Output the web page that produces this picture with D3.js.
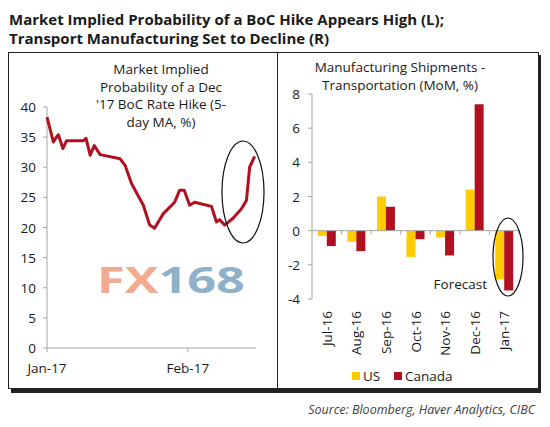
<!DOCTYPE html>
<html>
<head>
<meta charset="utf-8">
<script src="https://cdn.jsdelivr.net/npm/d3@7"></script>
<style>
  body { margin: 0; background: #fff; }
  text { font-family: 'Open Sans', 'DejaVu Sans', sans-serif; }
</style>
</head>
<body>
<div id="chart"></div>
<script>
// left panel: BoC hike probability, x = trading-day offset from Jan-17
const probDays = [0, 1.4, 2.1, 2.5, 2.9, 3.5, 4.3, 8.0, 8.6, 9.5, 10.4, 11.7, 16.1, 17.2, 18.6, 21.2, 22.6, 23.7, 25.6, 28.1, 29.2, 30.2, 31.4, 32.5, 36.2, 37.3, 38.0, 39.1, 40.9, 42.8, 43.9, 44.6, 45.7]
const probValues = [38.3, 34.2, 35, 35.4, 34.5, 33.1, 34.4, 34.4, 34.8, 32, 33.6, 32.1, 31.4, 30.3, 27.3, 23.7, 20.4, 19.9, 22.3, 24.2, 26.2, 26.2, 23.7, 24.2, 23.5, 20.9, 21.3, 20.4, 21.5, 23.1, 24.5, 30, 31.8]
const probTicks = [0, 5, 10, 15, 20, 25, 30, 35, 40]
const monthTicks = [{ day: 0, label: 'Jan-17' }, { day: 31, label: 'Feb-17' }]

// right panel: manufacturing shipments
const months = ['Jul-16', 'Aug-16', 'Sep-16', 'Oct-16', 'Nov-16', 'Dec-16', 'Jan-17']
const usValues = [-0.3, -0.65, 2.0, -1.55, -0.4, 2.4, -2.85]
const canadaValues = [-0.9, -1.2, 1.4, -0.5, -1.45, 7.4, -3.5]
const shipTicks = [-4, -2, 0, 2, 4, 6, 8]

const RED = '#b01020'
const GOLD = '#ffcc00'
const AXIS = '#a6a6a6'
const FS = 13.5

const svg = d3.select('#chart').append('svg').attr('width', 550).attr('height', 427)

svg.append('text').attr('x', 9).attr('y', 25).attr('font-size', 15).attr('font-weight', 'bold')
  .attr('fill', '#1a1a1a').text('Market Implied Probability of a BoC Hike Appears High (L);')
svg.append('text').attr('x', 9).attr('y', 44).attr('font-size', 15).attr('font-weight', 'bold')
  .attr('fill', '#1a1a1a').text('Transport Manufacturing Set to Decline (R)')

// frame with shadow
svg.append('rect').attr('x', 11).attr('y', 55).attr('width', 530).attr('height', 338).attr('fill', '#222')
svg.append('rect').attr('x', 8.5).attr('y', 52.5).attr('width', 530).attr('height', 336)
  .attr('fill', '#fff').attr('stroke', '#222').attr('stroke-width', 1)
svg.append('line').attr('x1', 277.5).attr('x2', 277.5).attr('y1', 52).attr('y2', 389)
  .attr('stroke', '#222').attr('stroke-width', 1)

// ---- left
const xL = d3.scaleLinear().domain([0, 46]).range([47, 256])
const yL = d3.scaleLinear().domain([0, 40]).range([348, 107])

const left = svg.append('g')
left.append('line').attr('x1', 47).attr('x2', 47).attr('y1', yL(40)).attr('y2', yL(0)).attr('stroke', AXIS)
left.append('line').attr('x1', 47).attr('x2', 256).attr('y1', yL(0)).attr('y2', yL(0)).attr('stroke', AXIS)
probTicks.forEach(t => {
  left.append('line').attr('x1', 43).attr('x2', 47).attr('y1', yL(t)).attr('y2', yL(t)).attr('stroke', AXIS)
  left.append('text').attr('x', 36).attr('y', yL(t) + 5).attr('text-anchor', 'end')
    .attr('font-size', FS).attr('fill', '#1a1a1a').text(t)
})
monthTicks.forEach(m => {
  left.append('line').attr('x1', xL(m.day)).attr('x2', xL(m.day)).attr('y1', yL(0)).attr('y2', yL(0) + 4).attr('stroke', AXIS)
  left.append('text').attr('x', xL(m.day)).attr('y', 373).attr('text-anchor', 'middle')
    .attr('font-size', FS).attr('fill', '#1a1a1a').text(m.label)
})

const leftTitle = ['Market Implied', 'Probability of a Dec', "'17 BoC Rate Hike (5-", 'day MA, %)']
leftTitle.forEach((s, i) => {
  left.append('text').attr('x', 161).attr('y', 74 + i * 17.5).attr('text-anchor', 'middle')
    .attr('font-size', FS).attr('fill', '#1a1a1a').text(s)
})

// watermark
const wm = left.append('text').attr('x', 97).attr('y', 293)
  .attr('font-size', 36).attr('font-weight', 'bold').attr('font-family', 'Roboto, sans-serif')
  .attr('textLength', 148).attr('lengthAdjust', 'spacingAndGlyphs')
wm.append('tspan').attr('fill', '#f2ab91').text('FX')
wm.append('tspan').attr('fill', '#8fb0c9').text('168')

left.append('path')
  .datum(probDays.map((d, i) => [d, probValues[i]]))
  .attr('d', d3.line().x(d => xL(d[0])).y(d => yL(d[1])))
  .attr('fill', 'none').attr('stroke', RED).attr('stroke-width', 3).attr('stroke-linejoin', 'round')

left.append('ellipse').attr('cx', 243).attr('cy', 192).attr('rx', 21).attr('ry', 51)
  .attr('fill', 'none').attr('stroke', '#111').attr('stroke-width', 1.2)

// ---- right
const xR = d3.scaleBand().domain(months).range([312, 519])
const yR = d3.scaleLinear().domain([-4, 8]).range([299, 94])

const right = svg.append('g')
right.append('line').attr('x1', 312).attr('x2', 312).attr('y1', yR(8)).attr('y2', yR(-4)).attr('stroke', AXIS)
shipTicks.forEach(t => {
  right.append('line').attr('x1', 308).attr('x2', 312).attr('y1', yR(t)).attr('y2', yR(t)).attr('stroke', AXIS)
  right.append('text').attr('x', 300).attr('y', yR(t) + 5).attr('text-anchor', 'end')
    .attr('font-size', FS).attr('fill', '#1a1a1a').text(t)
})

const bw = 9
months.forEach((m, i) => {
  const cx = xR(m) + xR.bandwidth() / 2
  right.append('rect').attr('x', cx - bw).attr('width', bw)
    .attr('y', yR(Math.max(0, usValues[i]))).attr('height', Math.abs(yR(usValues[i]) - yR(0)))
    .attr('fill', GOLD)
  right.append('rect').attr('x', cx).attr('width', bw)
    .attr('y', yR(Math.max(0, canadaValues[i]))).attr('height', Math.abs(yR(canadaValues[i]) - yR(0)))
    .attr('fill', RED)
  right.append('text').attr('transform', `translate(${cx + 5},311) rotate(-90)`)
    .attr('text-anchor', 'end').attr('font-size', FS).attr('fill', '#1a1a1a').text(m)
})
right.append('line').attr('x1', 312).attr('x2', 519).attr('y1', yR(0)).attr('y2', yR(0)).attr('stroke', AXIS)
months.forEach(m => {
  right.append('line').attr('x1', xR(m) + xR.bandwidth()).attr('x2', xR(m) + xR.bandwidth())
    .attr('y1', yR(0)).attr('y2', yR(0) + 4).attr('stroke', AXIS)
})

const rightTitle = ['Manufacturing Shipments -', 'Transportation (MoM, %)']
rightTitle.forEach((s, i) => {
  right.append('text').attr('x', 400).attr('y', 72 + i * 17.5).attr('text-anchor', 'middle')
    .attr('font-size', FS).attr('fill', '#1a1a1a').text(s)
})

right.append('text').attr('x', 487).attr('y', 289).attr('text-anchor', 'end')
  .attr('font-size', FS).attr('fill', '#1a1a1a').text('Forecast')
right.append('ellipse').attr('cx', 508).attr('cy', 257).attr('rx', 15).attr('ry', 39)
  .attr('fill', 'none').attr('stroke', '#111').attr('stroke-width', 1.2)

// legend
const legend = [{ label: 'US', color: GOLD, x: 352 }, { label: 'Canada', color: RED, x: 394 }]
legend.forEach(l => {
  right.append('rect').attr('x', l.x).attr('y', 372).attr('width', 8).attr('height', 8).attr('fill', l.color)
  right.append('text').attr('x', l.x + 11).attr('y', 381).attr('font-size', FS).attr('fill', '#1a1a1a').text(l.label)
})

svg.append('text').attr('x', 535).attr('y', 414).attr('text-anchor', 'end')
  .attr('font-size', 12.5).attr('font-style', 'italic').attr('fill', '#404040')
  .text('Source: Bloomberg, Haver Analytics, CIBC')
</script>
</body>
</html>
